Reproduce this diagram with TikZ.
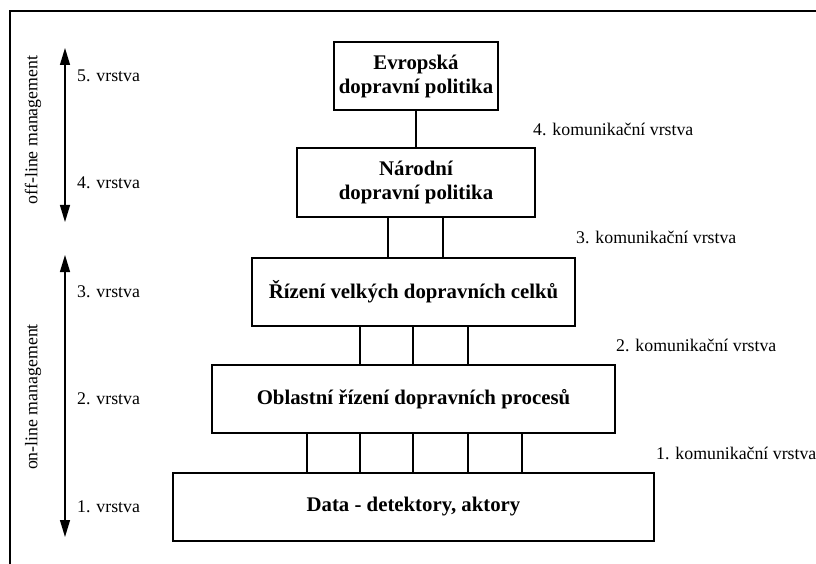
\documentclass[tikz,border=0pt]{standalone}
\usepackage{fontspec}
\setmainfont{Liberation Serif}
\usetikzlibrary{arrows.meta}

\tikzset{
  layerbox/.style={draw, line width=2.2pt, align=center, inner sep=0pt,
    font=\fontsize{20.8}{24}\selectfont\bfseries},
  link/.style={line width=2pt},
  lbl/.style={font=\fontsize{17.8}{20}\selectfont, anchor=west, inner sep=0pt},
  layerarrow/.style={line width=1.2pt,
    {Triangle[length=17pt,width=10pt]}-{Triangle[length=17pt,width=10pt]}}
}

\begin{document}
\begin{tikzpicture}[x=1pt,y=-1pt]
\useasboundingbox (0,0) rectangle (816,564);
\draw[line width=1.8pt] (816,11) -- (10,11) -- (10,564);

% layer boxes
\node[layerbox, minimum width=164pt, minimum height=68pt] (evropska) at (416,76) {Evropská\\dopravní politika};
\node[layerbox, minimum width=238pt, minimum height=69pt] (narodni) at (416,182.5) {Národní\\dopravní politika};
\node[layerbox, minimum width=323pt, minimum height=68pt] (rizeni) at (413.5,292) {Řízení velkých dopravních celků};
\node[layerbox, minimum width=403pt, minimum height=68pt] (oblastni) at (413.5,399) {Oblastní řízení dopravních procesů};
\node[layerbox, minimum width=481pt, minimum height=68pt] (data) at (413.5,507) {Data - detektory, aktory};

% communication links
\draw[link] (evropska.south) -- (narodni.north);
\foreach \x in {388,443}
    \draw[link] (narodni.south -| \x,0) -- (rizeni.north -| \x,0);
\foreach \x in {360,413,468}
    \draw[link] (rizeni.south -| \x,0) -- (oblastni.north -| \x,0);
\foreach \x in {307,360,413,468,522}
    \draw[link] (oblastni.south -| \x,0) -- (data.north -| \x,0);

\foreach \n/\y in {5/76, 4/182.5, 3/292, 2/399, 1/507}
    \node[lbl] (vrstva\n) at (77,\y) {\n. vrstva};
\foreach \n/\x/\y in {4/533/129, 3/576/237, 2/616/345, 1/656/453}
    \node[lbl] (kom\n) at (\x,\y) {\n. komunikační vrstva};

% management ranges
\coordinate (offtop) at (65,48);
\coordinate (offbot) at (65,222);
\coordinate (ontop) at (65,255);
\coordinate (onbot) at (65,537);
\draw[layerarrow] (offtop) -- (offbot);
\draw[layerarrow] (ontop) -- (onbot);
\node[rotate=90, font=\fontsize{17.8}{20}\selectfont] (offline) at (33,130) {off-line management};
\node[rotate=90, font=\fontsize{17.8}{20}\selectfont] (online) at (33,397) {on-line management};
\end{tikzpicture}
\end{document}
